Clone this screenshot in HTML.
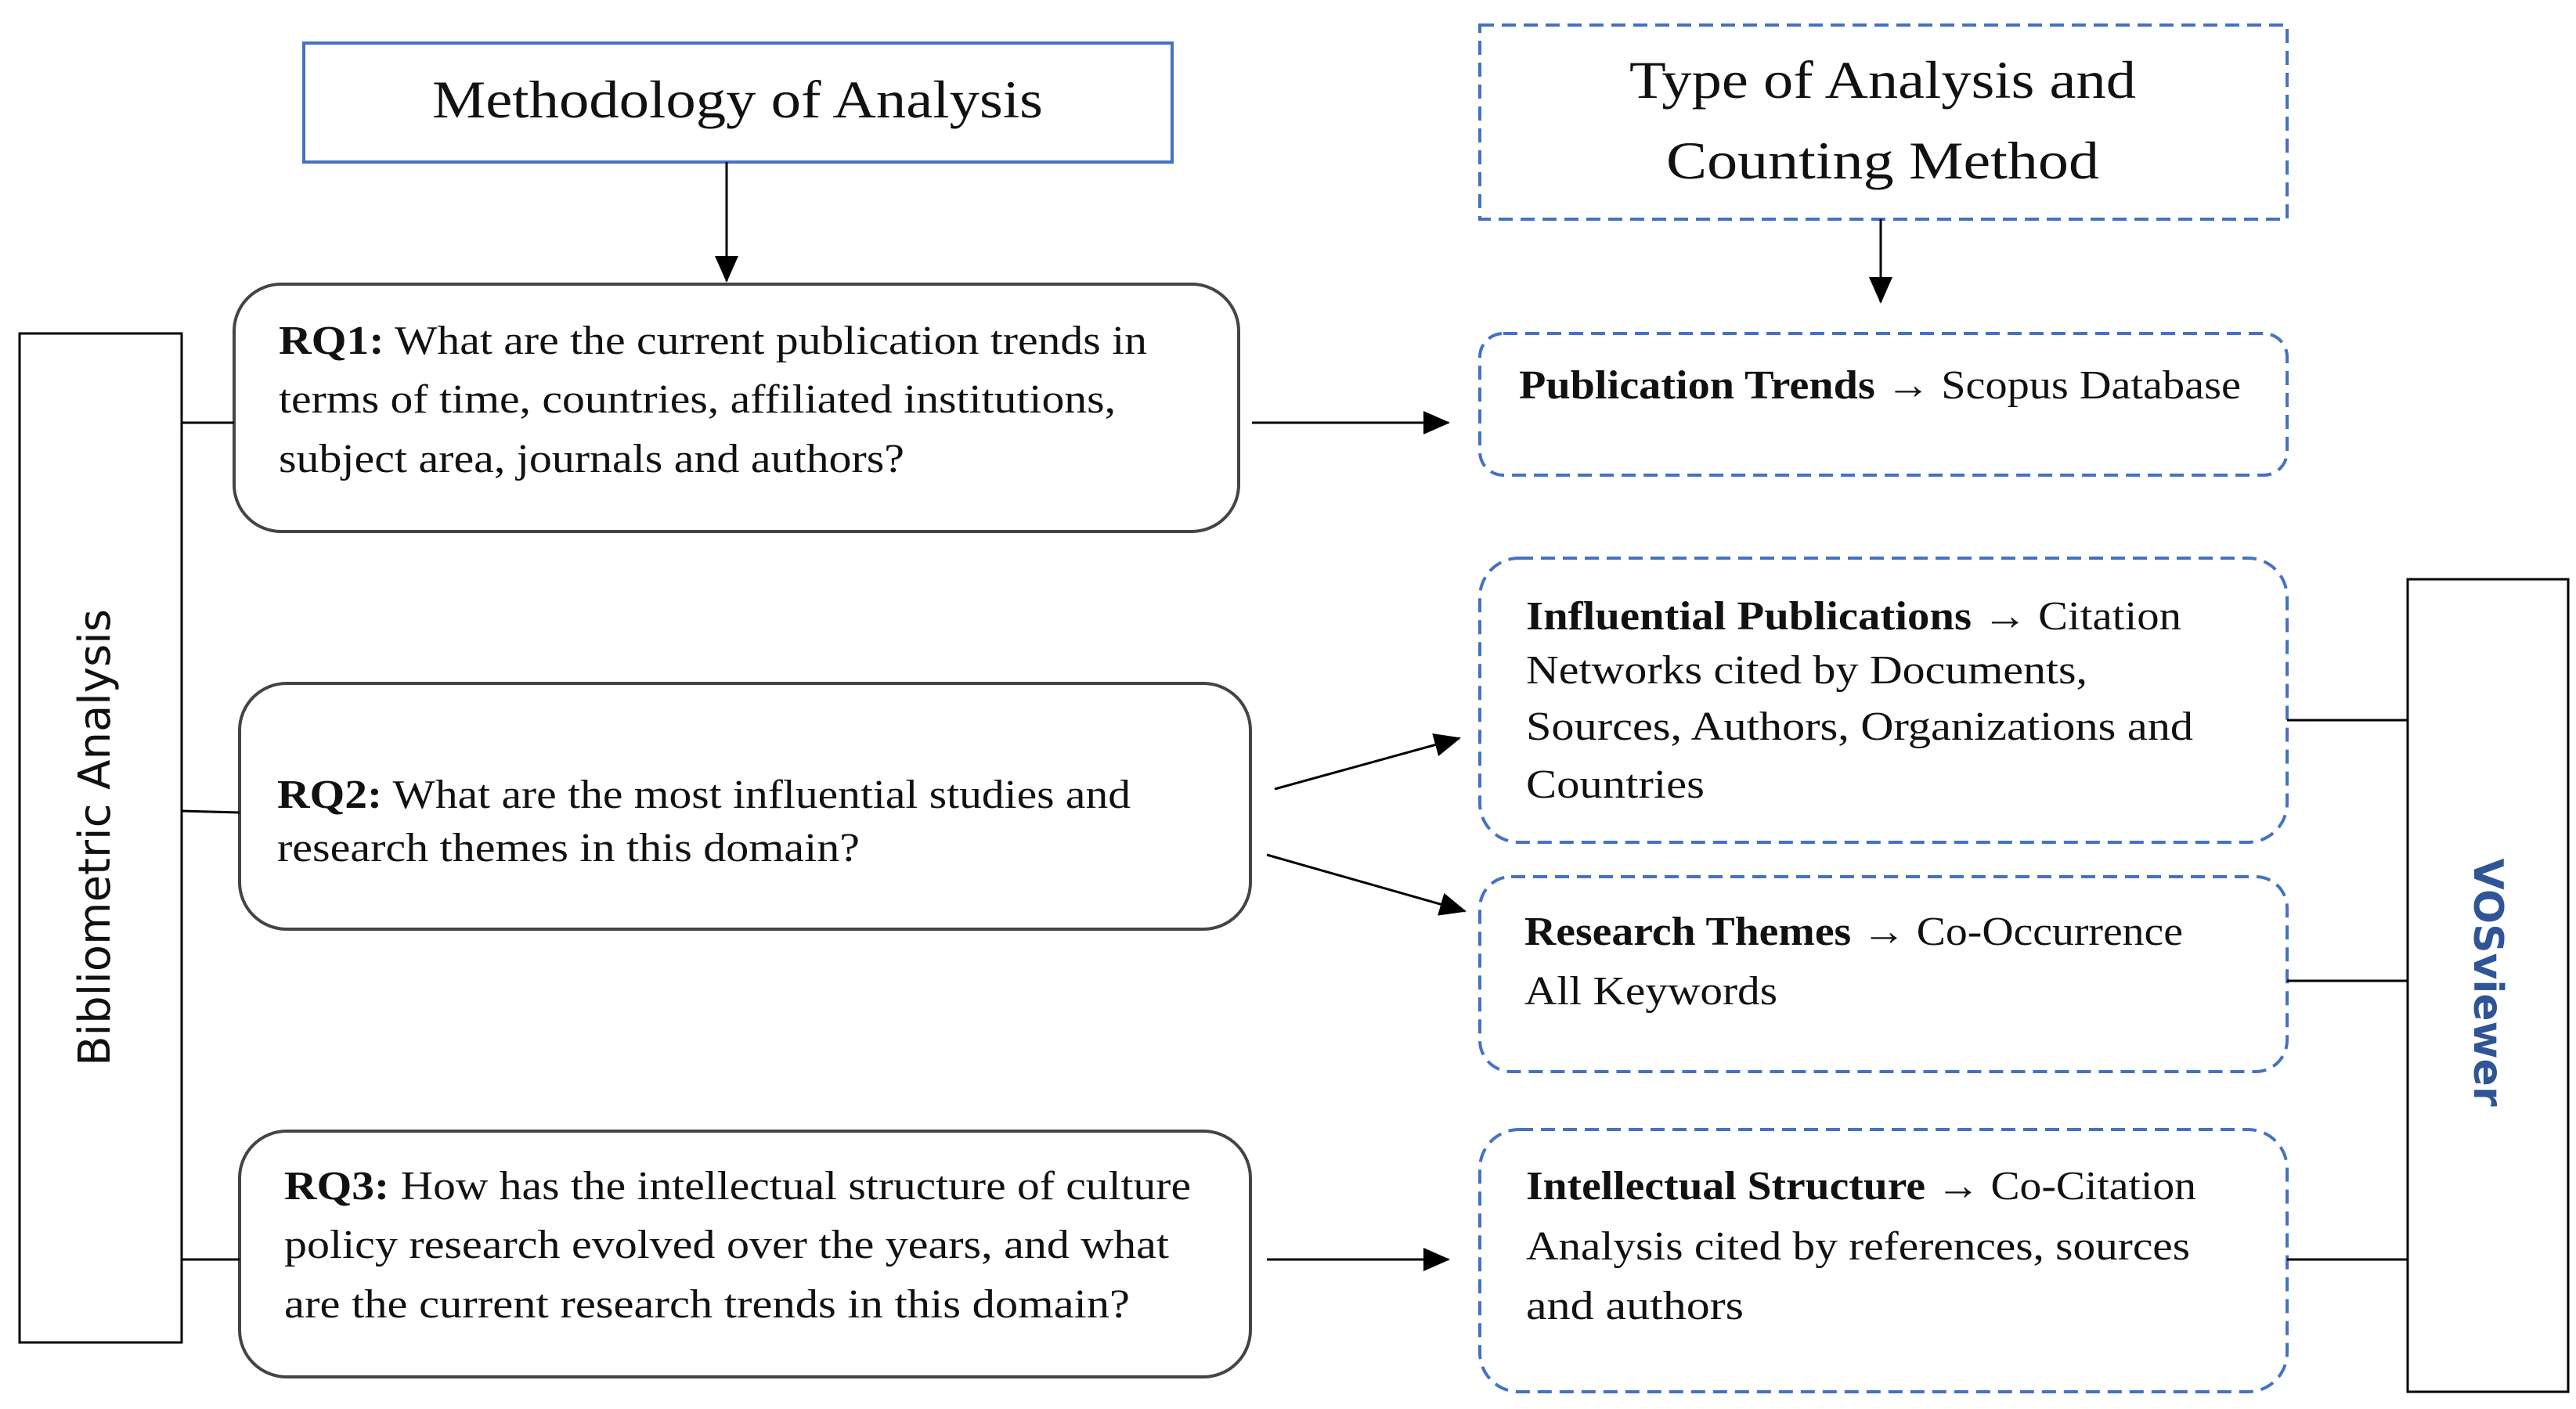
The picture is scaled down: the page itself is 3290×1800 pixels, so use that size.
<!DOCTYPE html>
<html><head><meta charset="utf-8"><style>
html,body{margin:0;padding:0;background:#fff}
svg{display:block}
.s{font-family:"Liberation Serif",serif;font-size:52px;fill:#111}
.b{font-weight:bold}
</style></head><body>
<svg width="3290" height="1800" viewBox="0 0 3290 1800" xmlns="http://www.w3.org/2000/svg">
<defs>
<marker id="m" markerWidth="34" markerHeight="30" refX="32" refY="15" orient="auto" markerUnits="userSpaceOnUse"><path d="M0,0 L34,15 L0,30z" fill="#000"/></marker></defs>
<g fill="none" stroke-width="4">
<rect x="388" y="55" width="1109" height="152" stroke="#4472C4"/>
<rect x="299" y="363" width="1283" height="316" rx="60" stroke="#444"/>
<rect x="306" y="873" width="1291" height="314" rx="60" stroke="#444"/>
<rect x="306" y="1445" width="1291" height="314" rx="60" stroke="#444"/>
<rect x="25" y="426" width="207" height="1289" stroke="#000" stroke-width="3"/>
<rect x="3075" y="740" width="205" height="1038" stroke="#000" stroke-width="3"/>
<g stroke="#4472C4" stroke-dasharray="18 10">
<rect x="1890" y="32" width="1031" height="248"/>
<rect x="1890" y="426" width="1031" height="181" rx="30"/>
<rect x="1890" y="713" width="1031" height="363" rx="50"/>
<rect x="1890" y="1120" width="1031" height="249" rx="40"/>
<rect x="1890" y="1443" width="1031" height="335" rx="50"/>
</g>
<g stroke="#000" stroke-width="3">
<line x1="232" y1="540" x2="299" y2="540"/>
<line x1="232" y1="1036" x2="306" y2="1038"/>
<line x1="232" y1="1609" x2="306" y2="1609"/>
<line x1="2921" y1="920" x2="3075" y2="920"/>
<line x1="2921" y1="1253" x2="3075" y2="1253"/>
<line x1="2921" y1="1609" x2="3075" y2="1609"/>
<line x1="928" y1="207" x2="928" y2="359" marker-end="url(#m)"/>
<line x1="2402" y1="280" x2="2402" y2="386" marker-end="url(#m)"/>
<line x1="1599" y1="540" x2="1850" y2="540" marker-end="url(#m)"/>
<line x1="1628" y1="1008" x2="1864" y2="943" marker-end="url(#m)"/>
<line x1="1618" y1="1092" x2="1871" y2="1164" marker-end="url(#m)"/>
<line x1="1618" y1="1609" x2="1850" y2="1609" marker-end="url(#m)"/>
</g>
</g>
<text x="552" y="150" textLength="780" lengthAdjust="spacingAndGlyphs" class="s" style="font-size:68px">Methodology of Analysis</text>
<text x="2081" y="125" textLength="647" lengthAdjust="spacingAndGlyphs" class="s" style="font-size:68px">Type of Analysis and</text>
<text x="2128" y="228" textLength="553" lengthAdjust="spacingAndGlyphs" class="s" style="font-size:68px">Counting Method</text>
<text class="s"><tspan x="356" y="452" textLength="1109" lengthAdjust="spacingAndGlyphs"><tspan class="b">RQ1:</tspan> What are the current publication trends in</tspan></text>
<text class="s" x="356" y="527" textLength="1069" lengthAdjust="spacingAndGlyphs">terms of time, countries, affiliated institutions,</text>
<text class="s" x="356" y="603" textLength="799" lengthAdjust="spacingAndGlyphs">subject area, journals and authors?</text>
<text class="s" x="354" y="1032" textLength="1090" lengthAdjust="spacingAndGlyphs"><tspan class="b">RQ2:</tspan> What are the most influential studies and</text>
<text class="s" x="354" y="1100" textLength="744" lengthAdjust="spacingAndGlyphs">research themes in this domain?</text>
<text class="s" x="363" y="1532" textLength="1158" lengthAdjust="spacingAndGlyphs"><tspan class="b">RQ3:</tspan> How has the intellectual structure of culture</text>
<text class="s" x="363" y="1607" textLength="1130" lengthAdjust="spacingAndGlyphs">policy research evolved over the years, and what</text>
<text class="s" x="363" y="1683" textLength="1080" lengthAdjust="spacingAndGlyphs">are the current research trends in this domain?</text>
<text class="s" x="1940" y="509" textLength="922" lengthAdjust="spacingAndGlyphs"><tspan class="b">Publication Trends</tspan> <tspan class="b">→</tspan> Scopus Database</text>
<text class="s" x="1949" y="804" textLength="837" lengthAdjust="spacingAndGlyphs"><tspan class="b">Influential Publications</tspan> <tspan class="b">→</tspan> Citation</text>
<text class="s" x="1949" y="873" textLength="717" lengthAdjust="spacingAndGlyphs">Networks cited by Documents,</text>
<text class="s" x="1949" y="945" textLength="852" lengthAdjust="spacingAndGlyphs">Sources, Authors, Organizations and</text>
<text class="s" x="1949" y="1019" textLength="228" lengthAdjust="spacingAndGlyphs">Countries</text>
<text class="s" x="1947" y="1207" textLength="841" lengthAdjust="spacingAndGlyphs"><tspan class="b">Research Themes</tspan> <tspan class="b">→</tspan> Co-Occurrence</text>
<text class="s" x="1947" y="1283" textLength="323" lengthAdjust="spacingAndGlyphs">All Keywords</text>
<text class="s" x="1949" y="1532" textLength="856" lengthAdjust="spacingAndGlyphs"><tspan class="b">Intellectual Structure</tspan> <tspan class="b">→</tspan> Co-Citation</text>
<text class="s" x="1949" y="1609" textLength="848" lengthAdjust="spacingAndGlyphs">Analysis cited by references, sources</text>
<text class="s" x="1949" y="1685" textLength="278" lengthAdjust="spacingAndGlyphs">and authors</text>
<text transform="translate(140,1070) rotate(-90)" text-anchor="middle" style="font-family:'DejaVu Sans','Liberation Sans',sans-serif;font-size:56px;fill:#111">Bibliometric Analysis</text>
<text transform="translate(3160,1255) rotate(90)" text-anchor="middle" style="font-family:'DejaVu Sans','Liberation Sans',sans-serif;font-size:52px;font-weight:bold;fill:#2F5597">VOSviewer</text>
</svg>
</body></html>
